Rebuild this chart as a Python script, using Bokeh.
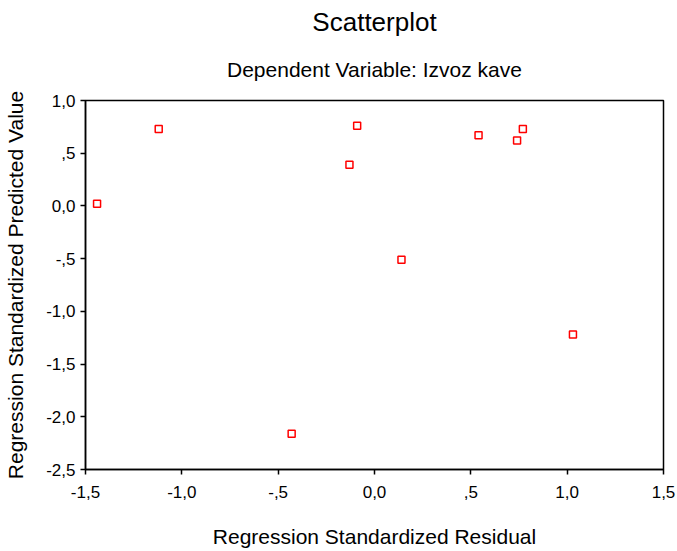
from bokeh.plotting import figure
from bokeh.models import FixedTicker, Title, Range1d
from bokeh.embed import file_html
from bokeh.resources import INLINE

# Data
residual = [-1.44, -1.12, -0.09, -0.13, 0.14, 0.54, 0.74, 0.77, 1.03, -0.43]
predicted = [0.02, 0.73, 0.76, 0.39, -0.51, 0.67, 0.62, 0.73, -1.22, -2.16]

x_ticks = [-1.5, -1.0, -0.5, 0.0, 0.5, 1.0, 1.5]
x_tick_labels = ["-1,5", "-1,0", "-,5", "0,0", ",5", "1,0", "1,5"]
y_ticks = [-2.5, -2.0, -1.5, -1.0, -0.5, 0.0, 0.5, 1.0]
y_tick_labels = ["-2,5", "-2,0", "-1,5", "-1,0", "-,5", "0,0", ",5", "1,0"]

FONT = "Liberation Sans"

p = figure(width=677, height=551, output_backend="svg", toolbar_location=None,
           x_range=Range1d(-1.5, 1.5), y_range=Range1d(-2.5, 1.0),
           min_border_left=85, min_border_right=14, min_border_top=100, min_border_bottom=82)

p.title.text = "Scatterplot"
p.title.align = "center"
p.title.text_font = FONT
p.title.text_font_size = "26px"
p.title.text_font_style = "normal"
p.title.text_color = "black"
p.title.standoff = 9

spacer = Title(text=" ", align="center", text_font=FONT, text_font_size="1px", standoff=2)
p.add_layout(spacer, "above")
sub = Title(text="Dependent Variable: Izvoz kave", align="center",
            text_font=FONT, text_font_size="21px", text_font_style="normal",
            text_color="black", standoff=29)
p.add_layout(sub, "above")

p.scatter(residual, predicted, marker="square", size=7, line_color="#ff0000",
          line_width=1.5, fill_color="white")

p.xgrid.visible = False
p.ygrid.visible = False
p.outline_line_color = "black"
p.outline_line_width = 1.5
p.outline_line_alpha = 1.0

p.xaxis.ticker = FixedTicker(ticks=x_ticks)
p.xaxis.major_label_overrides = dict(zip(x_ticks, x_tick_labels))
p.yaxis.ticker = FixedTicker(ticks=y_ticks)
p.yaxis.major_label_overrides = dict(zip(y_ticks, y_tick_labels))

for ax in (p.xaxis, p.yaxis):
    ax.axis_line_color = "black"
    ax.axis_line_width = 1.5
    ax.major_tick_line_color = "black"
    ax.major_tick_line_width = 1.5
    ax.major_tick_out = 5
    ax.major_tick_in = 0
    ax.minor_tick_line_color = None
    ax.major_label_text_font = FONT
    ax.major_label_text_font_size = "17px"
    ax.major_label_text_color = "black"
    ax.axis_label_text_font = FONT
    ax.axis_label_text_font_size = "21px"
    ax.axis_label_text_font_style = "normal"
    ax.axis_label_text_color = "black"

p.xaxis.axis_label = "Regression Standardized Residual"
p.yaxis.axis_label = "Regression Standardized Predicted Value"
p.xaxis.major_label_standoff = 11
p.yaxis.major_label_standoff = 5
p.xaxis.axis_label_standoff = 24
p.yaxis.axis_label_standoff = 16

open("out.html", "w").write(file_html(p, INLINE))
